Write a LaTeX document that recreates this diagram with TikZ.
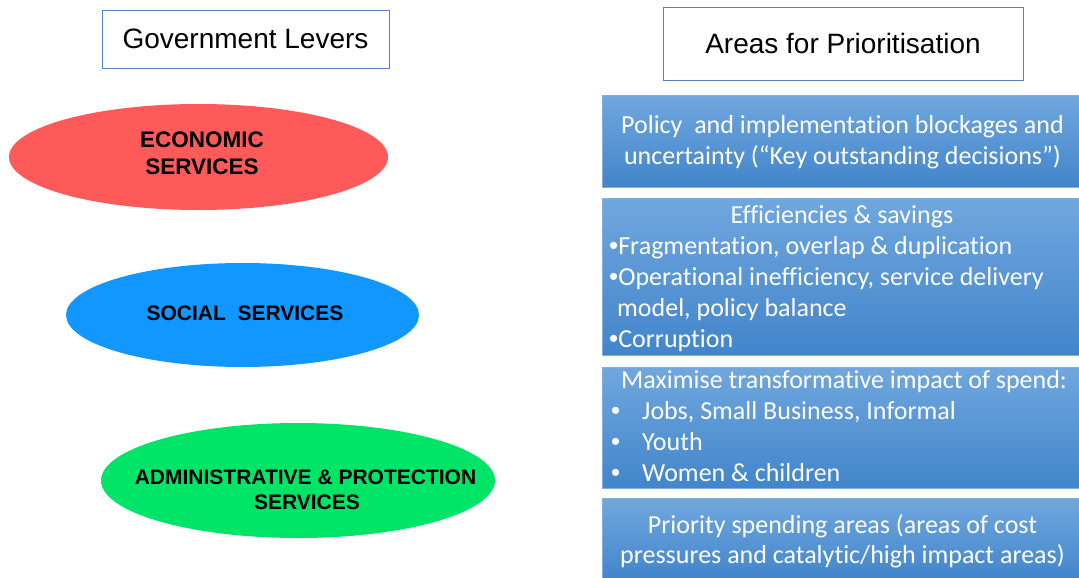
\documentclass[tikz,border=0pt]{standalone}
\usepackage{fontspec}
\setmainfont{Liberation Sans}
\newfontfamily\calib[Ligatures={NoCommon}]{Carlito}
\usetikzlibrary{shapes.geometric}
\definecolor{hdrborder}{RGB}{84,130,190}
\definecolor{econred}{RGB}{255,90,90}
\definecolor{socblue}{RGB}{18,150,255}
\definecolor{admgreen}{RGB}{0,228,104}
\definecolor{boxtop}{RGB}{112,167,222}
\definecolor{boxbot}{RGB}{66,133,203}
\definecolor{boxedge}{RGB}{130,175,225}
\newcommand{\bul}{{\rmfamily •}}
\tikzset{
  hdr/.style={draw=hdrborder, line width=0.9pt, fill=white, inner sep=0pt,
    font=\fontsize{28}{32}\selectfont, text=black},
  lever/.style={ellipse, inner sep=0pt, draw=none},
  levertext/.style={anchor=base, inner sep=0pt, text=black,
    font=\fontsize{21}{25}\selectfont\bfseries},
  bluebox/.style={draw=boxedge, line width=0.8pt, top color=boxtop, bottom color=boxbot,
    inner sep=0pt},
  btext/.style={anchor=base, inner sep=0pt, text=white, font=\calib\fontsize{26}{31}\selectfont},
  bltext/.style={btext, anchor=base west}
}
\begin{document}
\begin{tikzpicture}[x=1pt,y=-1pt]
\useasboundingbox (0,0) rectangle (1079,578);
% headers
\node[hdr, minimum width=287pt, minimum height=58pt] (gl) at (245.5,39) {Government Levers};
\node[hdr, minimum width=360pt, minimum height=73pt] (ap) at (843,43.5) {Areas for Prioritisation};
% ellipses
\node[lever, fill=econred, minimum width=379pt, minimum height=106pt] (econ) at (198.5,157) {};
\node[levertext, font=\fontsize{22.5}{27}\selectfont\bfseries] (econ1) at (202,147) {ECONOMIC};
\node[levertext, font=\fontsize{22.5}{27}\selectfont\bfseries] (econ2) at (202,174) {SERVICES};
\node[lever, fill=socblue, minimum width=353pt, minimum height=104pt] (soc) at (242.5,315) {};
\node[levertext] (soc1) at (245,320) {SOCIAL\ \ SERVICES};
\node[lever, fill=admgreen, minimum width=394pt, minimum height=115pt] (adm) at (298,480.5) {};
\node[levertext] (adm1) at (305.5,484) {ADMINISTRATIVE \& PROTECTION};
\node[levertext] (adm2) at (307,509) {SERVICES};
% blue boxes
\node[bluebox, minimum width=477pt, minimum height=92pt] (b1) at (840.5,141) {};
\node[bluebox, minimum width=477pt, minimum height=157pt] (b2) at (840.5,276.5) {};
\node[bluebox, minimum width=477pt, minimum height=121pt] (b3) at (840.5,427.5) {};
\node[bluebox, minimum width=477pt, minimum height=82pt] (b4) at (840.5,539) {};
% box 1 text
\node[btext] (b1a) at (842.5,133) {Policy\ \ and implementation blockages and};
\node[btext] (b1b) at (842.5,164) {uncertainty (“Key outstanding decisions”)};
% box 2 text
\node[btext] (b2a) at (842,223) {Efficiencies \& savings};
\node[bltext] (b2b) at (609,254) {\bul Fragmentation, overlap \& duplication};
\node[bltext] (b2c) at (609,285) {\bul Operational inefficiency, service delivery};
\node[bltext] (b2d) at (617,316) {model, policy balance};
\node[bltext] (b2e) at (609,347) {\bul Corruption};
% box 3 text
\node[bltext] (b3a) at (621,388) {Maximise transformative impact of spend:};
\node[bltext] (b3b) at (611,419) {\makebox[31pt][l]{\bul}Jobs, Small Business, Informal};
\node[bltext] (b3c) at (611,450) {\makebox[31pt][l]{\bul}Youth};
\node[bltext] (b3d) at (611,481) {\makebox[31pt][l]{\bul}Women \& children};
% box 4 text
\node[btext] (b4a) at (842.5,533) {Priority spending areas (areas of cost};
\node[btext] (b4b) at (842.5,563) {pressures and catalytic/high impact areas)};
\end{tikzpicture}
\end{document}
